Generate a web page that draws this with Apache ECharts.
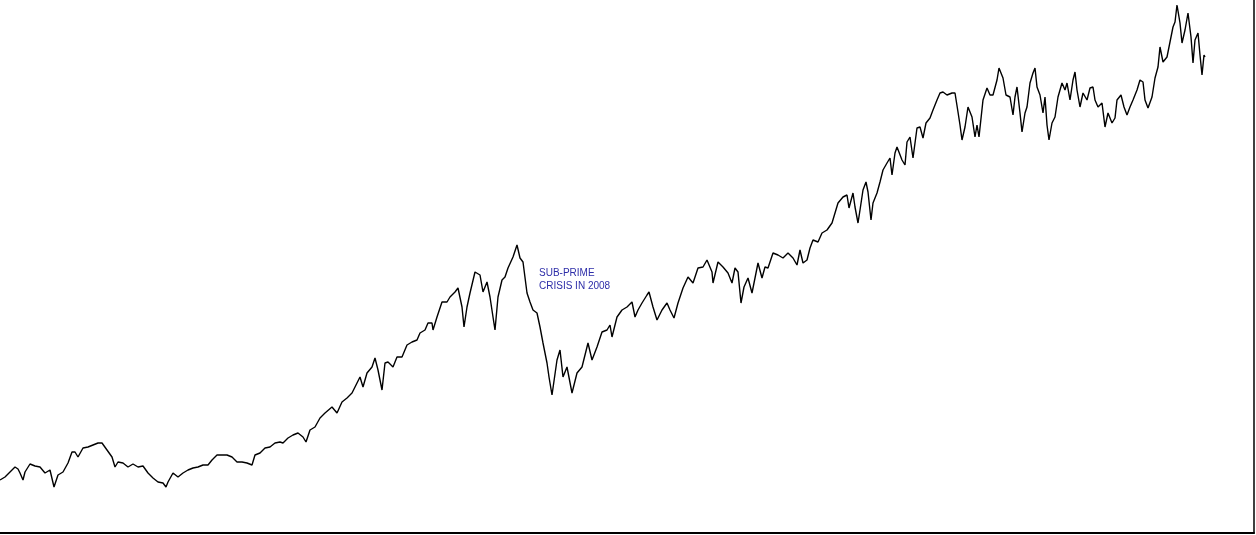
<!DOCTYPE html>
<html>
<head>
<meta charset="utf-8">
<script src="https://cdn.jsdelivr.net/npm/echarts@6/dist/echarts.min.js"></script>
<style>
html,body{margin:0;padding:0;background:#fff;}
#chart{width:1256px;height:535px;}
</style>
</head>
<body>
<div id="chart"></div>
<script>
// time position (arbitrary units along the time axis)
var t1 = [0,5,10,15,18,20,23,25,30,35,40,45,50,54,58,63,68,72,75,78,83,88,93,98,102,107,112,115,118,123,128,133,138,143,148,153,158,163,166,168,173,178,183,188,193,198,203,208,212,217,222,227,232,237,242,247,252,255,260,265,270,275,280,283,288,293,298,303,306,310];
var v1 = [53,56,61,66,64,60,53,61,69,67,66,60,63,46,58,61,70,81,81,76,85,86,88,90,90,83,76,66,71,70,66,69,66,67,60,55,51,50,46,51,60,56,60,63,65,66,68,68,73,78,78,78,76,71,71,70,68,78,80,85,86,90,91,90,95,98,100,96,91,103];

var t2 = [315,320,325,332,337,342,347,352,357,360,363,367,372,375,378,382,385,388,393,397,402,407,412,417,420,425,428,432,433,437,442,447,450,455,458,462,464,467,470,475,480,483,487,490,493,495,498,502,505,508,513,517,520,523,527,530,533,537,540,543,547,549,552];
var v2 = [106,115,120,126,120,131,135,140,150,156,146,160,166,175,163,143,170,171,166,176,176,188,191,193,200,203,210,210,203,216,231,231,236,241,245,226,206,226,240,261,258,241,251,236,216,203,236,253,256,265,276,288,275,271,240,231,223,220,206,190,170,156,138];

var t3 = [557,560,563,567,572,577,582,585,588,592,597,602,607,610,612,617,622,627,632,635,638,642,647,649,653,657,662,667,670,674,678,683,688,693,698,703,707,712,713,718,723,728,732,735,738,741,744,748,752,755,758,762,765,768,773,778,783,788,793,797,800,803,807,810,813,818,822,827];
var v3 = [173,183,156,166,140,160,166,178,190,173,186,201,203,208,196,216,223,226,231,216,223,230,238,241,226,213,223,230,223,215,230,245,256,250,265,266,273,261,250,271,266,260,250,265,261,230,246,255,240,255,270,255,266,265,280,278,275,280,275,268,283,270,273,285,293,291,300,303];

var t4 = [832,835,838,843,847,849,853,855,858,860,863,866,868,871,873,877,880,883,887,890,892,895,897,902,905,907,910,913,917,920,923,926,930,933,937,940];
var v4 = [310,320,330,336,338,325,340,326,310,323,343,351,341,313,330,340,351,363,370,375,358,380,386,373,368,391,396,375,405,406,395,410,415,423,433,440];

var t5 = [943,947,952,955,958,960,962,965,968,972,975,977,979,983,987,990,993,997,999,1003,1006,1010,1013,1015,1017,1020,1022,1025,1027,1030,1033,1035,1037,1040,1043,1045,1047,1049,1052,1055,1058,1062,1065,1067,1070,1073,1075,1077,1080,1083,1087,1090,1093,1095,1098,1102,1105,1108,1112,1115,1117,1121,1124,1127,1130,1133,1137,1140,1143,1145,1148,1152,1155,1158,1160,1163,1167,1170,1173,1175,1177,1180,1182,1185,1188,1191,1193,1195,1198,1200,1202,1204,1205];
var v5 = [441,438,440,440,421,408,393,406,426,416,396,408,396,433,445,438,438,453,465,455,438,436,418,436,446,420,401,420,426,450,460,465,446,438,420,436,408,393,410,416,436,450,443,450,433,453,461,443,426,440,433,445,446,433,426,430,406,420,410,415,433,438,426,418,426,433,443,453,451,433,425,436,455,466,486,471,476,491,506,511,528,510,490,503,520,496,470,493,500,478,458,478,476];

var annotationText = 'SUB-PRIME\nCRISIS IN 2008';

var times = t1.concat(t2, t3, t4, t5);
var levels = v1.concat(v2, v3, v4, v5);
var data = times.map(function (t, i) { return [t, levels[i]]; });

var chart = echarts.init(document.getElementById('chart'), null, {renderer: 'canvas'});
chart.setOption({
  animation: false,
  backgroundColor: '#ffffff',
  grid: {left: 0, right: 2, top: 0, bottom: 2, containLabel: false},
  xAxis: {
    type: 'value', min: 0, max: 1254,
    axisLine: {show: true, onZero: false, lineStyle: {color: '#000', width: 2}},
    axisTick: {show: false}, axisLabel: {show: false}, splitLine: {show: false}
  },
  yAxis: {
    type: 'value', min: 0, max: 533, position: 'right',
    axisLine: {show: true, onZero: false, lineStyle: {color: '#000', width: 1.5}},
    axisTick: {show: false}, axisLabel: {show: false}, splitLine: {show: false}
  },
  series: [{
    type: 'line',
    data: data,
    showSymbol: false,
    symbol: 'none',
    lineStyle: {color: '#000', width: 1.4},
    silent: true
  }],
  graphic: [{
    type: 'text',
    left: 539,
    top: 267,
    style: {
      text: annotationText,
      fill: '#2d2da8',
      font: '10px "Liberation Sans", Arial, sans-serif',
      lineHeight: 13
    }
  }]
});
</script>
</body>
</html>
